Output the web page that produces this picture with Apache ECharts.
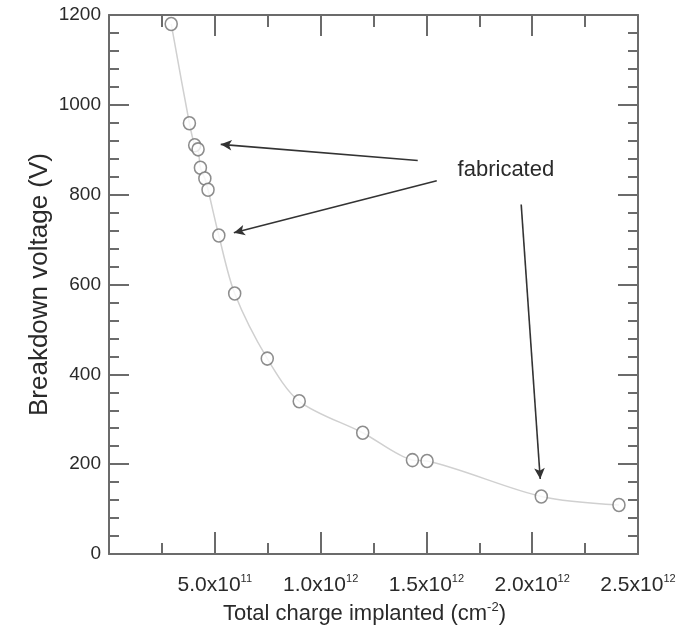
<!DOCTYPE html>
<html><head><meta charset="utf-8">
<script src="https://cdn.jsdelivr.net/npm/echarts@6/dist/echarts.min.js"></script>
<style>html,body{margin:0;padding:0;background:#fff}#c{width:686px;height:632px}</style>
</head><body><div id="c"></div>
<script>
// ---- data ----
const charge = [2.94e11, 3.80e11, 4.05e11, 4.21e11, 4.32e11, 4.53e11, 4.68e11, 5.19e11, 5.94e11, 7.48e11, 8.99e11, 1.199e12, 1.434e12, 1.503e12, 2.043e12, 2.410e12];
const voltage = [1180, 959, 910, 901, 860, 836, 811, 709, 580, 435, 340, 270, 209, 207, 128, 109];
const xTickValues = [0, 5e11, 1e12, 1.5e12, 2e12, 2.5e12];
const xTickMantissa = ['', '5.0x10', '1.0x10', '1.5x10', '2.0x10', '2.5x10'];
const xTickExponent = ['', '11', '12', '12', '12', '12'];
const yTickValues = [0, 200, 400, 600, 800, 1000, 1200];
const yTickLabels = ['0', '200', '400', '600', '800', '1000', '1200'];
const xTitle = 'Total charge implanted (cm';
const xTitleExp = '-2';
const yTitle = 'Breakdown voltage (V)';
const noteText = 'fabricated';
const notePos = [1.645e12, 856];
const arrowTails = [[1.459e12, 876], [1.549e12, 831], [1.948e12, 778]];
const arrowHeads = [[5.28e11, 912], [5.90e11, 715], [2.038e12, 167]];

const FONT = "'Liberation Sans',Arial,sans-serif";
const AX = '#6b6b6b';
const TXT = '#2a2a2a';

const chart = echarts.init(document.getElementById('c'), null, {renderer: 'canvas'});

function xLabel(v) {
  const i = xTickValues.findIndex(t => Math.abs(t - v) < 1e9);
  if (i < 0 || !xTickMantissa[i]) return '';
  return '{b|' + xTickMantissa[i] + '}{s|' + xTickExponent[i] + '}';
}
function yLabel(v) {
  const i = yTickValues.findIndex(t => Math.abs(t - v) < 1e-6);
  return i < 0 ? '' : yTickLabels[i];
}

function xAxis(pos, showLabel, majLen, minLen) {
  return {
    type: 'value', position: pos, min: xTickValues[0], max: xTickValues[xTickValues.length - 1], interval: 5e11,
    axisLine: {show: true, onZero: false, lineStyle: {color: AX, width: 2}},
    splitLine: {show: false},
    axisTick: {show: true, inside: true, length: majLen, lineStyle: {color: AX, width: 2}},
    minorTick: {show: true, splitNumber: 2, length: minLen, lineStyle: {color: AX, width: 2}},
    axisLabel: showLabel ? {
      show: true, margin: 19, formatter: xLabel, color: TXT,
      rich: {
        b: {fontFamily: FONT, fontSize: 21, color: TXT, lineHeight: 24},
        s: {fontFamily: FONT, fontSize: 11, color: TXT, verticalAlign: 'top', lineHeight: 24}
      }
    } : {show: false}
  };
}
function yAxis(pos, showLabel) {
  return {
    type: 'value', position: pos, min: yTickValues[0], max: yTickValues[yTickValues.length - 1], interval: 200,
    axisLine: {show: true, onZero: false, lineStyle: {color: AX, width: 2}},
    splitLine: {show: false},
    axisTick: {show: true, inside: true, length: 20, lineStyle: {color: AX, width: 2}},
    minorTick: {show: true, splitNumber: 5, length: 10, lineStyle: {color: AX, width: 2}},
    axisLabel: showLabel ? {show: true, margin: 8, color: TXT, fontFamily: FONT, fontSize: 19, formatter: yLabel} : {show: false}
  };
}

const xa = xAxis('bottom', true, 22, 11);
xa.name = '{t|' + xTitle + '}{s|' + xTitleExp + '}{t|)}';
xa.nameLocation = 'middle';
xa.nameGap = 47;
xa.nameTextStyle = {
  padding: [0, 18, 0, 0],
  rich: {
    t: {fontFamily: FONT, fontSize: 22, color: TXT, lineHeight: 26},
    s: {fontFamily: FONT, fontSize: 13, color: TXT, verticalAlign: 'top', lineHeight: 26}
  }
};
const ya = yAxis('left', true);
ya.name = yTitle;
ya.nameLocation = 'middle';
ya.nameGap = 56;
ya.nameMoveOverlap = false;
ya.nameTextStyle = {fontFamily: FONT, fontSize: 26, color: TXT};

const pts = charge.map((c, i) => [c, voltage[i]]);

chart.setOption({
  animation: false,
  backgroundColor: '#fff',
  grid: {left: 109, right: 48, top: 15, bottom: 78, containLabel: false},
  xAxis: [xa, xAxis('top', false, 21, 12)],
  yAxis: [ya, yAxis('right', false)],
  series: [
    {
      type: 'line', xAxisIndex: 0, yAxisIndex: 0, data: pts, smooth: 0.3,
      showSymbol: false, symbol: 'none',
      lineStyle: {color: '#d0d0d0', width: 1.5}, silent: true, z: 1
    },
    {
      type: 'scatter', xAxisIndex: 0, yAxisIndex: 0, data: pts,
      symbol: 'circle', symbolSize: [12, 13],
      itemStyle: {color: '#fff', borderColor: '#707070', borderWidth: 1.6}, z: 3,
      markLine: {
        silent: true, animation: false, symbolSize: [8, 11],
        lineStyle: {color: '#333', width: 1.6, type: 'solid'},
        label: {show: false},
        data: arrowTails.map((t, i) => [
          {coord: t, symbol: 'none'},
          {coord: arrowHeads[i], symbol: 'arrow'}
        ])
      },
      markPoint: {
        silent: true, animation: false,
        data: [{
          coord: notePos, symbol: 'rect', symbolSize: 1, itemStyle: {color: 'rgba(0,0,0,0)'},
          label: {show: true, position: 'right', distance: 0, formatter: noteText,
                  fontFamily: FONT, fontSize: 22, color: TXT}
        }]
      }
    }
  ]
});
</script>
</body></html>
